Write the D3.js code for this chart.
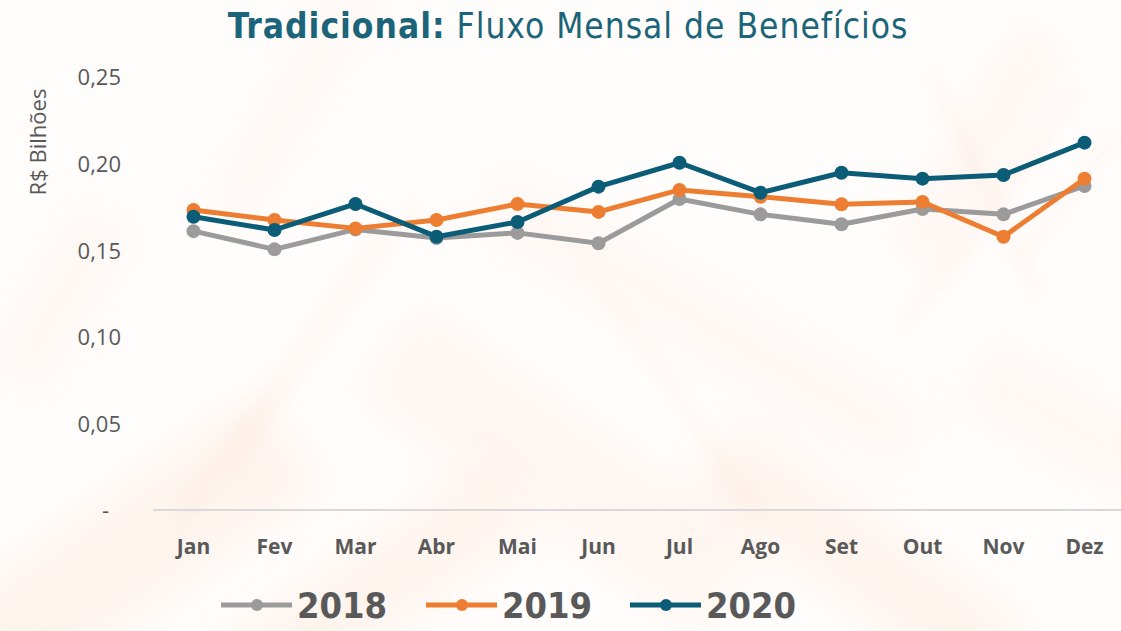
<!DOCTYPE html>
<html lang="pt-BR">
<head>
<meta charset="utf-8">
<script src="https://cdn.jsdelivr.net/npm/d3@7"></script>
<style>
  html, body { margin: 0; padding: 0; background: #fff; }
  svg { display: block; }
</style>
</head>
<body>
<svg id="chart" width="1121" height="631"></svg>
<script>
// Monthly benefit flow, "Tradicional" plan, in R$ billions
const months = ["Jan", "Fev", "Mar", "Abr", "Mai", "Jun", "Jul", "Ago", "Set", "Out", "Nov", "Dez"];
const values2018 = [0.161, 0.1505, 0.162, 0.157, 0.160, 0.154, 0.1796, 0.1707, 0.165, 0.1738, 0.1707, 0.1871];
const values2019 = [0.1732, 0.1674, 0.1626, 0.1674, 0.1767, 0.1721, 0.1848, 0.1809, 0.1765, 0.1778, 0.1578, 0.1913];
const values2020 = [0.1693, 0.1617, 0.1767, 0.1578, 0.1663, 0.1867, 0.2005, 0.1832, 0.1947, 0.1913, 0.1934, 0.2121];
const seriesNames = ["2018", "2019", "2020"];
const seriesColors = ["#9b9b9b", "#ed7d31", "#0b5d77"];
const yTicks = [0, 0.05, 0.10, 0.15, 0.20, 0.25];

const series = [values2018, values2019, values2020].map((vals, i) => ({
  name: seriesNames[i], color: seriesColors[i], values: vals
}));

const svg = d3.select("#chart");
const W = 1121, H = 631;

// Soft peach paper texture behind the chart
const defs = svg.append("defs");
defs.append("filter").attr("id", "soft").attr("x", "-50%").attr("y", "-50%").attr("width", "200%").attr("height", "200%")
  .append("feGaussianBlur").attr("stdDeviation", 9);
defs.append("filter").attr("id", "softer").attr("x", "-50%").attr("y", "-50%").attr("width", "200%").attr("height", "200%")
  .append("feGaussianBlur").attr("stdDeviation", 22);

svg.append("rect").attr("width", W).attr("height", H).attr("fill", "#fffdfc");
const bg = svg.append("g").attr("class", "texture");
const blobs = [
  [120, 560, 420, 120, -35, 0.10], [360, 600, 360, 90, -35, 0.10], [560, 470, 420, 110, 35, 0.08],
  [860, 560, 360, 90, 35, 0.10], [980, 150, 260, 60, -60, 0.08], [300, 90, 300, 60, -60, 0.05],
  [700, 320, 500, 80, 30, 0.05], [60, 300, 200, 80, -60, 0.05], [1060, 420, 200, 80, 30, 0.06]
];
blobs.forEach(([cx, cy, w, h, rot, op]) => {
  bg.append("rect")
    .attr("x", cx - w / 2).attr("y", cy - h / 2).attr("width", w).attr("height", h)
    .attr("transform", `rotate(${rot},${cx},${cy})`)
    .attr("fill", "#f3a877").attr("opacity", op).attr("filter", "url(#softer)");
});
const streaks = [
  [180, 520, 380, 230], [230, 470, 420, 200], [900, 330, 1080, 90], [1020, 260, 1121, 130],
  [580, 250, 760, 520], [930, 70, 1040, 300]
];
streaks.forEach(([x1, y1, x2, y2]) => {
  bg.append("line").attr("x1", x1).attr("y1", y1).attr("x2", x2).attr("y2", y2)
    .attr("stroke", "#f0a070").attr("stroke-width", 10).attr("opacity", 0.08)
    .attr("filter", "url(#soft)");
});

// Scales
const x = d3.scaleBand().domain(months).range([153, 1125]);
const y = d3.scaleLinear().domain([0, 0.25]).range([510, 77]);
const cx = m => x(m) + x.bandwidth() / 2;

// Title
const title = svg.append("text")
  .attr("x", 568).attr("y", 38).attr("text-anchor", "middle")
  .attr("font-family", "'DejaVu Sans Condensed', 'DejaVu Sans', sans-serif")
  .attr("font-size", 35).attr("letter-spacing", 1).attr("fill", "#1b6479");
title.append("tspan").attr("font-weight", "bold").text("Tradicional:");
title.append("tspan").text(" Fluxo Mensal de Benefícios");

// Baseline
svg.append("line")
  .attr("x1", 153).attr("x2", W).attr("y1", y(0)).attr("y2", y(0))
  .attr("stroke", "#d9d9d9").attr("stroke-width", 2);

// Y axis labels (Brazilian number format)
const fmt = d => d === 0 ? "-" : d3.format(".2f")(d).replace(".", ",");
const yAxis = d3.axisLeft(y).tickValues(yTicks).tickFormat(fmt).tickSize(0).tickPadding(0);
const yg = svg.append("g").attr("transform", "translate(121,0)").call(yAxis);
yg.select(".domain").remove();
yg.selectAll("text")
  .attr("font-family", "'Open Sans', sans-serif").attr("font-size", 22)
  .attr("fill", "#595959").attr("dy", "0.36em")
  .filter(d => d === 0).attr("dx", -12);

svg.append("text")
  .attr("transform", "translate(46,142) rotate(-90)").attr("text-anchor", "middle")
  .attr("font-family", "'Open Sans', sans-serif").attr("font-size", 22)
  .attr("fill", "#595959").text("R$ Bilhões");

// X axis labels
const xAxis = d3.axisBottom(x).tickSize(0).tickPadding(0);
const xg = svg.append("g").attr("transform", "translate(0,546)").call(xAxis);
xg.select(".domain").remove();
xg.selectAll("text")
  .attr("font-family", "'Open Sans', sans-serif").attr("font-weight", "bold")
  .attr("font-size", 21).attr("fill", "#595959").attr("dy", "0.36em");

// Lines and markers
const line = d3.line().x((d, i) => cx(months[i])).y(d => y(d));
const sg = svg.selectAll("g.series").data(series).join("g").attr("class", "series");
sg.append("path")
  .attr("d", d => line(d.values))
  .attr("fill", "none").attr("stroke", d => d.color)
  .attr("stroke-width", 5).attr("stroke-linejoin", "round");
sg.each(function (s) {
  d3.select(this).selectAll("circle").data(s.values).join("circle")
    .attr("cx", (d, i) => cx(months[i])).attr("cy", d => y(d))
    .attr("r", 7).attr("fill", s.color);
});

// Legend
const legendX = [221, 426, 630];
const lg = svg.selectAll("g.legend").data(series).join("g").attr("class", "legend")
  .attr("transform", (d, i) => `translate(${legendX[i]},605)`);
lg.append("line").attr("x1", 0).attr("x2", 71).attr("y1", 0).attr("y2", 0)
  .attr("stroke", d => d.color).attr("stroke-width", 5);
lg.append("circle").attr("cx", 36).attr("cy", 0).attr("r", 6).attr("fill", d => d.color);
lg.append("text").attr("x", 76).attr("y", 0).attr("dy", "0.36em")
  .attr("font-family", "'DejaVu Sans Condensed', 'DejaVu Sans', sans-serif")
  .attr("font-weight", "bold")
  .attr("font-size", 36).attr("fill", "#595959").text(d => d.name);
</script>
</body>
</html>
